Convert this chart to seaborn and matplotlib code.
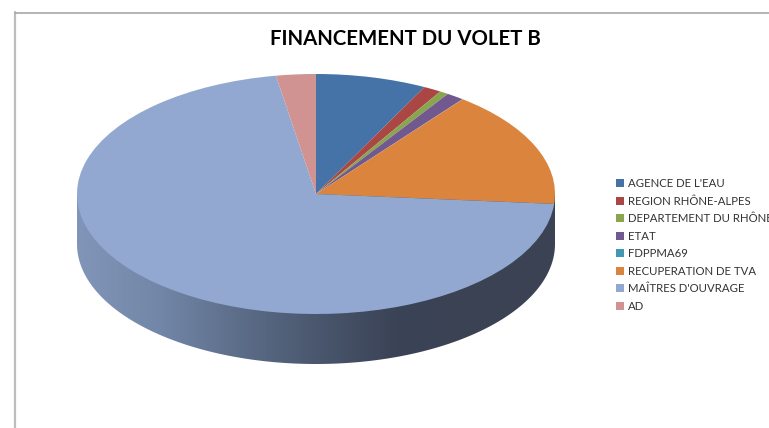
import numpy as np
import matplotlib
matplotlib.use("Agg")
import matplotlib.pyplot as plt
from matplotlib.patches import Polygon, Rectangle
from matplotlib.colors import LinearSegmentedColormap
import seaborn as sns

title = "FINANCEMENT DU VOLET B"
categories = ["AGENCE DE L'EAU", "REGION RHÔNE-ALPES", "DEPARTEMENT DU RHÔNE", "ETAT",
              "FDPPMA69", "RECUPERATION DE TVA", "MAÎTRES D'OUVRAGE", "AD"]
values = [7.5, 1.2, 0.6, 1.2, 0.02, 15.8, 71.0, 2.68]
colors = ["#4572A7", "#AA4643", "#89A54E", "#71588F", "#4198AF", "#DB843D", "#92A8D0", "#D19392"]
wall_colors = ["#8095B8", "#7387A8", "#5D6E8A", "#4A576E", "#3B4356", "#3A4254", "#3B4355"]

W, H = 769, 428
cx, cy, rx, ry, depth = 316, 194, 239, 120, 50

sns.set_theme(style="white")
plt.rcParams["font.family"] = ["Lato", "DejaVu Sans"]

fig = plt.figure(figsize=(W / 100, H / 100), dpi=100, facecolor="white")
ax = fig.add_axes([0, 0, 1, 1])
wedges, _ = ax.pie(values, colors=sns.color_palette(colors), startangle=90, counterclock=False,
                   radius=1, center=(0, 0), frame=True, wedgeprops=dict(linewidth=0, zorder=3))
ax.set_aspect("auto")
ax.set_xticks([]); ax.set_yticks([])
sns.despine(ax=ax, left=True, bottom=True)

# side wall of the disc
d = depth / ry
t = np.linspace(np.pi, 2 * np.pi, 200)
wall_pts = np.r_[np.c_[np.cos(t), np.sin(t) - d], [[1, 0], [-1, 0]]]
wall = Polygon(wall_pts, closed=True, transform=ax.transData, facecolor="none", edgecolor="none")
ax.add_patch(wall)
cmap = LinearSegmentedColormap.from_list("wall", wall_colors)
img = ax.imshow(np.linspace(0, 1, 256)[None, :], cmap=cmap, extent=(-1, 1, -1 - d, 0),
                aspect="auto", zorder=2)
img.set_clip_path(wall)
ax.set_xlim(-cx / rx, (W - cx) / rx)
ax.set_ylim(-(H - cy) / ry, cy / ry)

# frame lines of the page
fig.add_artist(plt.Line2D([14.5 / W, 14.5 / W], [0, 1 - 12 / H], color="#BDBDBD", lw=1.6))
fig.add_artist(plt.Line2D([14.5 / W, 1], [1 - 12.5 / H, 1 - 12.5 / H], color="#A8A8A8", lw=1.2))

fig.text(405 / W, 1 - 39 / H, title, ha="center", va="center", fontsize=14.7, fontweight="bold", color="black")

handles = [Rectangle((0, 0), 1, 1, facecolor=c, edgecolor="none") for c in colors]
leg = fig.legend(handles, categories, loc="upper left", bbox_to_anchor=(616 / W, 1 - 178 / H),
                 frameon=False, fontsize=8.2, labelspacing=0.575, handlelength=0.7, handleheight=0.7,
                 handletextpad=0.35, borderpad=0, borderaxespad=0, labelcolor="#333333")
fig.savefig("out.png", dpi=100)
